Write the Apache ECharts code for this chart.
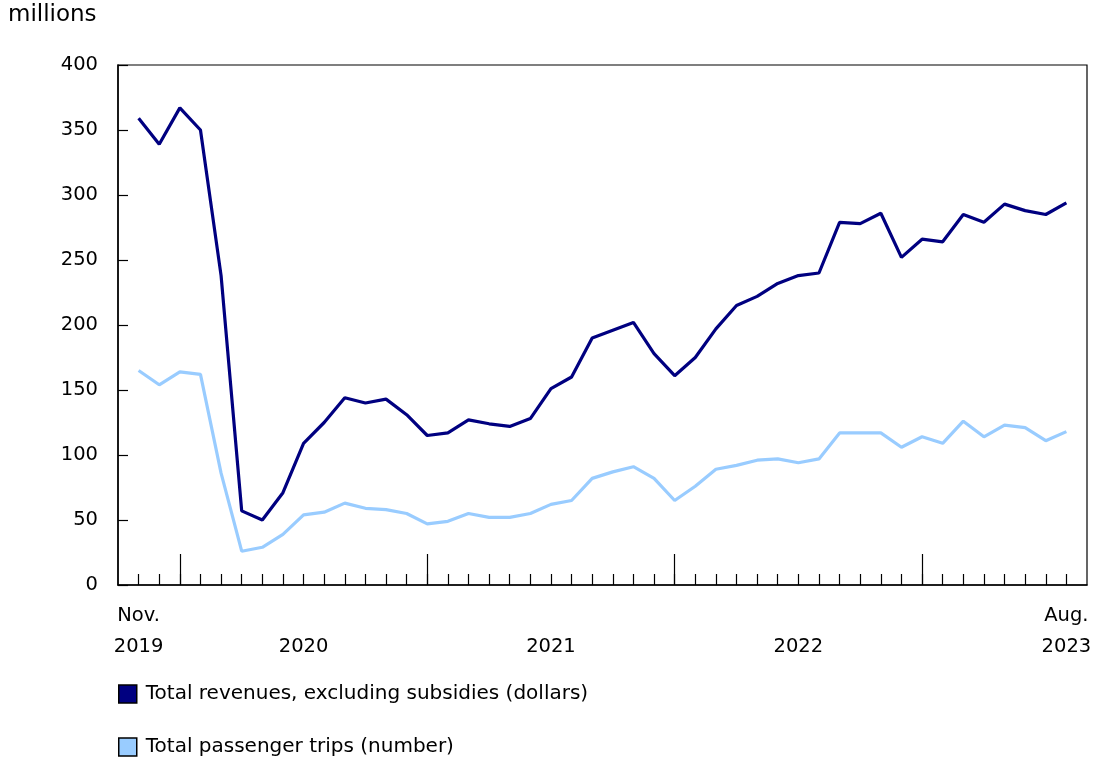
<!DOCTYPE html>
<html><head><meta charset="utf-8">
<script src="https://cdn.jsdelivr.net/npm/echarts@6/dist/echarts.min.js"></script>
<style>html,body{margin:0;padding:0;background:#fff}#c{width:1095px;height:760px}</style>
</head><body><div id="c"></div>
<script>
// Months Nov 2019 .. Aug 2023 (46 months), index 0..45
const months = ["Nov 2019","Dec 2019","Jan 2020","Feb 2020","Mar 2020","Apr 2020","May 2020","Jun 2020","Jul 2020","Aug 2020","Sep 2020","Oct 2020","Nov 2020","Dec 2020","Jan 2021","Feb 2021","Mar 2021","Apr 2021","May 2021","Jun 2021","Jul 2021","Aug 2021","Sep 2021","Oct 2021","Nov 2021","Dec 2021","Jan 2022","Feb 2022","Mar 2022","Apr 2022","May 2022","Jun 2022","Jul 2022","Aug 2022","Sep 2022","Oct 2022","Nov 2022","Dec 2022","Jan 2023","Feb 2023","Mar 2023","Apr 2023","May 2023","Jun 2023","Jul 2023","Aug 2023"];
const revenues = [359,339,367,350,238,57,50,71,109,125,144,140,143,131,115,117,127,124,122,128,151,160,190,196,202,178,161,175,197,215,222,232,238,240,279,278,286,252,266,264,285,279,293,288,285,294];
const trips = [165,154,164,162,86,26,29,39,54,56,63,59,58,55,47,49,55,52,52,55,62,65,82,87,91,82,65,76,89,92,96,97,94,97,117,117,117,106,114,109,126,114,123,121,111,118];
const xLabelIdx = [0,8,20,32,45];
const xLabelText = ["Nov.\n2019","\n2020","\n2021","\n2022","Aug.\n2023"];
const majorTickIdx = [2,14,26,38];
const seriesNames = ["Total revenues, excluding subsidies (dollars)","Total passenger trips (number)"];
const colors = ["#000080","#99ccff"];

const font = "DejaVu Sans, Verdana, sans-serif";
const chart = echarts.init(document.getElementById('c'));
const allIdx = months.map((m,i)=>i);
chart.setOption({
  animation:false,
  textStyle:{fontFamily:font,color:'#000'},
  graphic:[{type:'text',left:8,top:4,style:{text:'millions',font:'23px '+font,fill:'#000'}}],
  grid:{left:118,right:8,top:65,bottom:175,show:true,borderColor:'#000',borderWidth:1.2,containLabel:false},
  legend:{
    orient:'vertical',left:118,top:684,padding:0,itemGap:33,itemWidth:18,itemHeight:18,icon:'rect',
    textStyle:{fontFamily:font,fontSize:20,color:'#000',padding:[0,0,0,4]},
    data:seriesNames.map((n,i)=>({name:n,icon:'rect',itemStyle:{color:colors[i],borderColor:'#000',borderWidth:1.5}}))
  },
  xAxis:[{
    type:'value',min:-1,max:months.length,
    axisLine:{onZero:false,lineStyle:{color:'#000',width:1.5}},
    splitLine:{show:false},
    axisTick:{show:true,inside:true,length:11,customValues:allIdx,lineStyle:{color:'#000',width:1.2}},
    axisLabel:{show:true,customValues:xLabelIdx,fontFamily:font,fontSize:19.5,color:'#000',lineHeight:31,margin:15,
      formatter:(v)=>{const k=xLabelIdx.indexOf(Math.round(v));return k>=0?xLabelText[k]:'';}}
  },{
    type:'value',min:-1,max:months.length,position:'bottom',
    axisLine:{show:false,onZero:false},splitLine:{show:false},
    axisTick:{show:true,inside:true,length:31,customValues:majorTickIdx,lineStyle:{color:'#000',width:1.2}},
    axisLabel:{show:false}
  }],
  yAxis:{
    type:'value',min:0,max:400,interval:50,
    axisLine:{show:true,onZero:false,lineStyle:{color:'#000',width:1.5}},
    splitLine:{show:false},
    axisTick:{show:true,inside:true,length:10,lineStyle:{color:'#000',width:1.2}},
    axisLabel:{fontFamily:font,fontSize:19.5,color:'#000',margin:20}
  },
  series:[
    {name:seriesNames[0],type:'line',xAxisIndex:0,data:revenues.map((v,i)=>[i,v]),symbol:'none',lineStyle:{color:colors[0],width:3.2},itemStyle:{color:colors[0]},z:3},
    {name:seriesNames[1],type:'line',xAxisIndex:0,data:trips.map((v,i)=>[i,v]),symbol:'none',lineStyle:{color:colors[1],width:3.2},itemStyle:{color:colors[1]},z:2}
  ]
});
</script></body></html>
